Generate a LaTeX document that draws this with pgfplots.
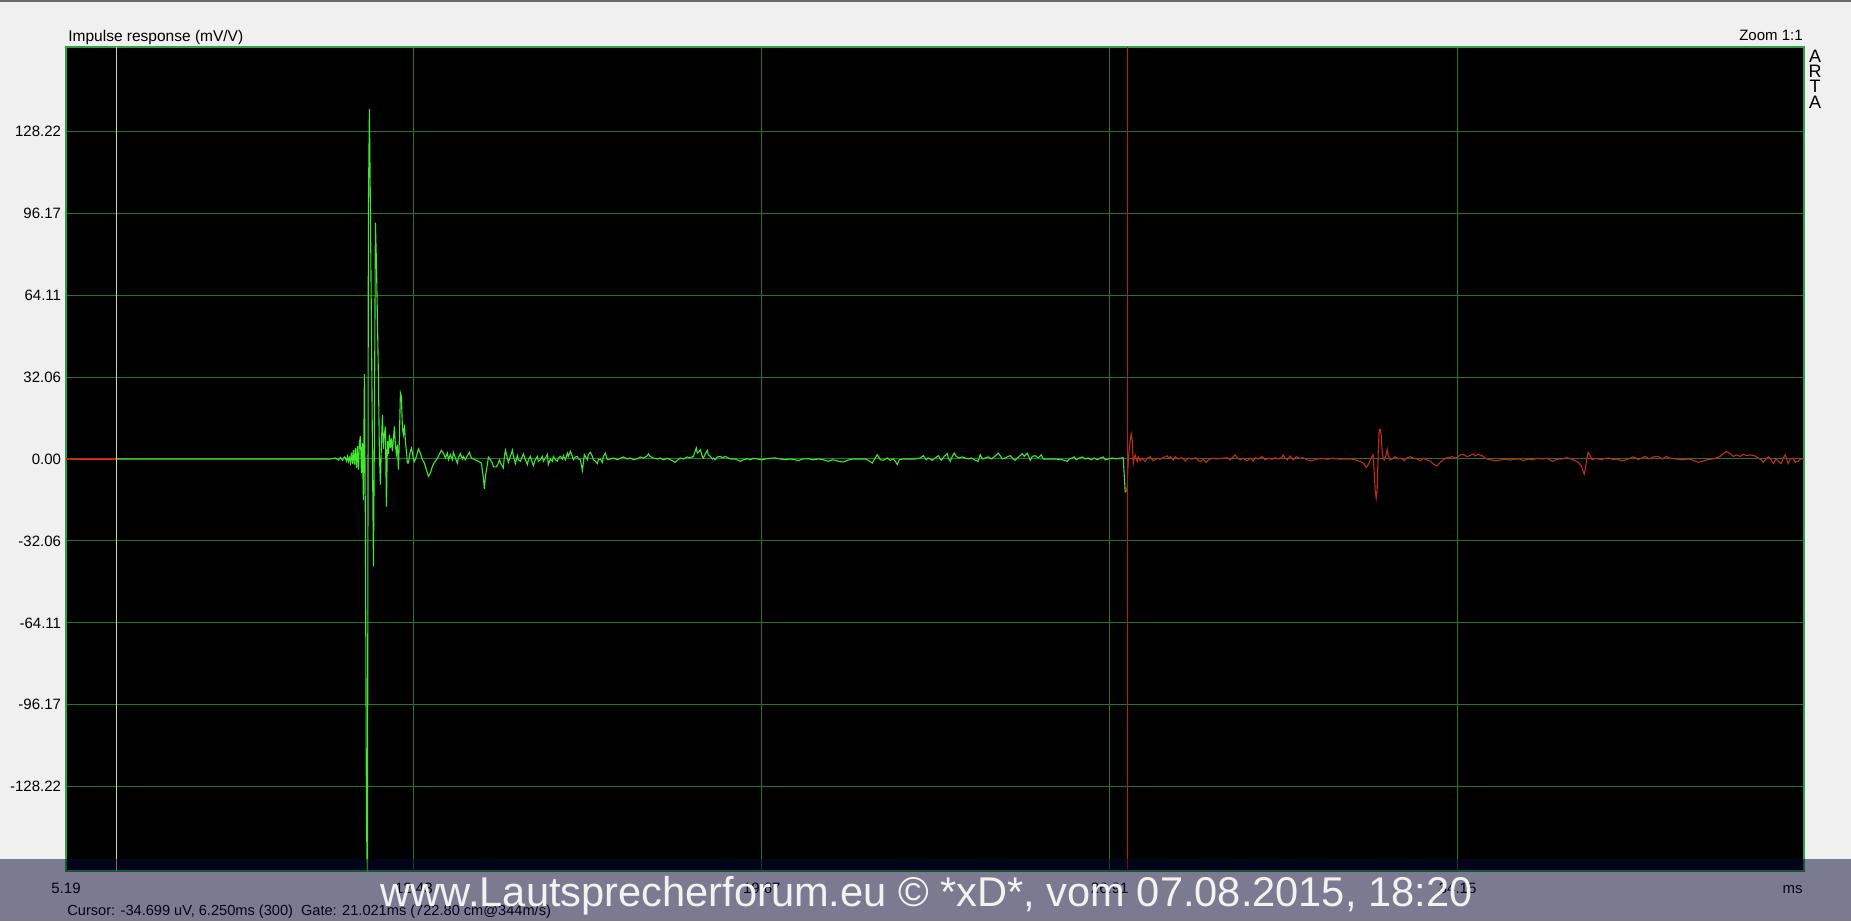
\documentclass[border=0pt]{standalone}
\usepackage{fontspec}
\setmainfont{Liberation Sans}
\usepackage{pgfplots}
\usepackage{pgfplotstable}
\pgfplotsset{compat=1.18}

\definecolor{pagebg}{RGB}{240,240,240}
\definecolor{topline}{RGB}{105,105,105}
\definecolor{gridgreen}{RGB}{34,120,34}
\definecolor{framegreen}{RGB}{48,160,72}
\definecolor{tracegreen}{RGB}{64,232,48}
\definecolor{tracered}{RGB}{196,44,24}
\definecolor{cursorcol}{RGB}{215,210,150}
\definecolor{gatecol}{RGB}{180,30,20}
\definecolor{bandnavy}{RGB}{6,6,52}
\definecolor{wmark}{RGB}{242,242,242}

\newcommand{\tickfont}{\fontsize{7.5}{9}\selectfont}

% impulse response, time in ms, level in mV/V
\pgfplotstableread{
t v
6.250 0
10.693 0
10.797 0.4
10.859 -0.4
10.901 0.6
10.942 -0.5
10.984 0.8
11.005 0.5
11.026 -0.8
11.047 1.0
11.067 -1.0
11.088 0.5
11.109 -1.5
11.130 2.5
11.151 -2.0
11.171 3.5
11.192 -2.2
11.213 4.3
11.234 -3.5
11.255 5.0
11.275 -4.2
11.296 6.3
11.317 8.9
11.338 -5.5
11.359 6.3
11.379 -16.0
11.400 33.2
11.421 -27.7
11.442 -138
11.463 -170
11.483 98.7
11.504 136.9
11.525 98.0
11.546 52.5
11.567 4.0
11.588 -42.0
11.608 10.0
11.629 92.5
11.650 77.2
11.671 55.0
11.692 31.6
11.712 2.0
11.733 -10.0
11.754 6.0
11.775 17.3
11.796 4.0
11.816 9.5
11.837 12.7
11.858 -18.6
11.879 7.0
11.900 2.0
11.920 9.5
11.941 4.3
11.962 8.0
11.983 3.0
12.004 8.0
12.024 12.7
12.045 5.6
12.066 2.0
12.087 5.6
12.108 -4.2
12.128 8.0
12.149 25.8
12.170 24.3
12.191 12.0
12.212 9.5
12.233 13.4
12.253 7.0
12.274 3.0
12.295 -1.6
12.316 -1.6
12.337 1.0
12.357 3.0
12.378 4.3
12.399 2.3
12.420 0.0
12.441 -1.0
12.482 1.0
12.524 3.9
12.565 2.3
12.607 -0.3
12.648 -1.6
12.690 -4.2
12.732 -6.8
12.773 -5.5
12.815 -2.9
12.856 -1.3
12.898 -0.3
12.940 1.0
13.002 3.4
13.044 2.3
13.085 0.4
13.127 2.3
13.148 -0.3
13.189 1.7
13.231 -0.3
13.252 2.6
13.293 0.4
13.335 -1.6
13.356 0.4
13.397 2.1
13.439 0
13.460 1.0
13.501 -0.3
13.543 1.3
13.585 2.6
13.626 0.4
13.668 0
13.730 -0.5
13.772 -0.9
13.834 -1.6
13.876 -7.4
13.897 -11.7
13.918 -6.8
13.959 -2.2
13.980 0.7
14.022 -0.3
14.063 -1.6
14.084 -3.1
14.146 -3.1
14.188 -1.6
14.209 -0.3
14.250 -2.2
14.292 -3.5
14.313 1.0
14.334 3.4
14.375 0.4
14.396 -1.3
14.438 1.0
14.479 3.4
14.500 1.3
14.542 -1.8
14.583 1.3
14.604 -0.3
14.646 -0.9
14.687 1.0
14.708 2.0
14.750 -0.3
14.791 -2.2
14.812 -0.3
14.854 1.0
14.895 -1.6
14.916 -2.6
14.958 -0.3
14.999 1.0
15.020 -0.9
15.062 -0.3
15.103 1.0
15.124 -0.9
15.166 0.4
15.207 1.7
15.228 -2.2
15.270 0
15.311 -0.9
15.332 1.0
15.374 -0.3
15.416 -0.9
15.436 0.4
15.478 1.0
15.520 0
15.540 1.3
15.582 -0.3
15.624 2.3
15.644 1.0
15.686 3.0
15.728 1.0
15.748 -0.3
15.790 0.8
15.832 1.0
15.852 0
15.894 -0.3
15.915 -2.2
15.936 -4.4
15.956 -1.6
15.977 1.7
15.998 1.0
16.040 -0.3
16.060 1.7
16.102 2.6
16.144 1.0
16.164 -0.3
16.206 -0.9
16.248 -1.8
16.268 -0.3
16.310 0
16.352 -1.3
16.373 1.0
16.414 2.3
16.456 -0.3
16.518 0
16.581 0.4
16.664 -0.3
16.726 0.3
16.789 0.8
16.872 0
16.934 0.4
16.997 -0.3
17.080 0.1
17.142 0.8
17.205 0.3
17.288 1.3
17.309 2.0
17.350 1.0
17.413 0.4
17.496 0
17.558 0.4
17.621 -0.3
17.704 0.3
17.766 -0.3
17.829 -0.9
17.870 -1.3
17.912 -0.5
17.975 0.4
18.037 0
18.120 0.8
18.182 0.4
18.245 1.0
18.307 4.3
18.328 2.3
18.370 3.0
18.391 3.6
18.432 1.0
18.453 0.4
18.495 2.0
18.536 3.4
18.557 1.7
18.599 1.0
18.640 0
18.661 0.4
18.703 -0.3
18.744 0.8
18.807 1.0
18.848 0.4
18.911 1.0
18.952 0.6
19.015 0
19.119 0
19.223 -0.9
19.285 -0.3
19.368 0.1
19.431 -0.3
19.493 0.3
19.576 0
19.680 -0.3
19.743 0
19.847 0.3
19.951 0.4
20.055 0
20.159 -0.3
20.263 0
20.367 -0.3
20.429 -0.7
20.513 0
20.638 0.1
20.742 -0.3
20.846 0
20.950 -0.3
21.054 -0.9
21.137 -0.3
21.199 -0.5
21.262 -0.9
21.366 -1.2
21.449 -0.5
21.553 0
21.678 0
21.823 0
21.886 -0.5
21.969 -1.6
22.031 0.4
22.073 1.7
22.136 -0.3
22.198 -0.5
22.281 0.4
22.344 -0.5
22.406 0
22.448 -0.9
22.489 -2.2
22.531 -0.3
22.614 0
22.718 0
22.864 0
22.968 0.4
23.030 1.3
23.093 -0.3
23.134 0.4
23.217 -0.5
23.280 0.4
23.342 1.3
23.405 -0.5
23.467 1.0
23.530 2.1
23.550 0.4
23.592 -0.9
23.634 1.0
23.675 2.3
23.717 1.0
23.779 0.4
23.842 0.8
23.904 0.4
23.966 0
24.029 0.4
24.112 -0.5
24.174 -0.9
24.216 1.7
24.258 0
24.320 0.4
24.382 0.8
24.445 0
24.507 0.8
24.591 2.3
24.632 1.3
24.674 0
24.736 0.4
24.799 1.0
24.840 1.3
24.903 0
24.944 -0.5
24.986 0.4
25.027 1.0
25.090 2.1
25.132 1.0
25.194 2.3
25.236 0.4
25.256 -0.5
25.298 1.0
25.360 1.3
25.423 0.4
25.485 1.6
25.527 0
25.631 0
25.776 0
25.922 -0.3
26.026 -0.9
26.068 0
26.130 0.4
26.172 0.8
26.213 -0.3
26.276 0.4
26.338 0.8
26.400 0
26.463 0.4
26.525 -0.3
26.588 0.4
26.650 -0.3
26.713 0.4
26.775 0.8
26.817 -0.3
26.879 0
26.962 0.4
27.046 0
27.108 0.3
27.170 0.4
27.191 0.5
27.212 -6.3
27.233 -12.8
27.254 -12.8
}\greentab

\pgfplotstableread{
t v
5.190 0
6.250 0
}\redlead

\pgfplotstableread{
t v
27.254 -12.8
27.274 -10.8
27.295 -1.0
27.316 3.5
27.337 7.4
27.358 9.8
27.378 7.4
27.399 -1.7
27.420 0.5
27.441 1.6
27.482 -1.0
27.503 0.9
27.545 -0.7
27.586 0.3
27.649 -1.0
27.690 0.3
27.753 0.9
27.815 -0.7
27.898 0.3
27.961 -0.1
28.023 0.5
28.106 1.2
28.148 0.3
28.169 0.9
28.231 -0.4
28.273 0.9
28.335 0
28.418 0.5
28.481 -0.8
28.543 0.3
28.626 0
28.689 0.5
28.751 -0.4
28.793 -1.0
28.855 -0.1
28.918 -1.4
28.959 -0.4
29.043 0.3
29.147 0
29.251 0.3
29.355 0.5
29.417 -0.4
29.480 0.9
29.522 1.6
29.563 0.5
29.626 -0.4
29.688 0.3
29.771 -0.7
29.834 0.3
29.896 -0.8
29.938 0.5
30.000 0
30.083 0.9
30.146 -0.4
30.208 0.3
30.291 -0.1
30.354 0.5
30.437 0
30.499 0.9
30.520 1.6
30.562 0.3
30.603 -0.4
30.666 1.2
30.728 -0.4
30.791 0.9
30.853 0.3
30.936 0.5
31.020 -0.4
31.124 -0.7
31.228 0
31.332 0.3
31.436 -0.1
31.561 0.3
31.706 -0.1
31.852 0
31.977 -0.1
32.081 -0.7
32.164 -1.3
32.206 -2.0
32.247 -3.3
32.289 -2.3
32.331 -0.4
32.372 1.2
32.393 1.6
32.414 -5.0
32.435 -12.1
32.456 -15.4
32.476 -12.1
32.497 2.2
32.518 11.6
32.539 11.6
32.560 9.4
32.580 2.9
32.601 0.3
32.622 -0.4
32.664 1.6
32.685 3.8
32.705 1.5
32.747 -0.4
32.809 0.3
32.851 0.9
32.914 0
32.976 0.3
33.039 -0.7
33.101 0.5
33.164 0.9
33.226 0.3
33.309 0
33.372 -0.7
33.434 0.3
33.517 -0.4
33.580 -0.8
33.642 -2.0
33.725 -2.7
33.767 -1.7
33.829 -0.7
33.892 0.3
33.954 0.5
34.037 0.9
34.100 0.3
34.162 0.9
34.204 1.6
34.266 1.8
34.350 0.9
34.412 1.4
34.475 2.0
34.516 1.2
34.579 1.8
34.662 1.3
34.724 0.3
34.787 -0.1
34.870 -0.4
34.932 -0.7
35.036 -0.4
35.140 -0.1
35.244 -0.4
35.348 0
35.452 0
35.515 -0.7
35.619 0
35.702 -0.3
35.806 0.3
35.910 0
36.014 0.3
36.118 -0.9
36.222 -0.1
36.327 0
36.410 0.5
36.472 0.3
36.576 -0.5
36.659 -1.3
36.722 -2.6
36.784 -5.9
36.805 -4.2
36.847 0.8
36.868 2.6
36.909 1.3
36.951 -0.3
37.034 0.3
37.138 -0.3
37.222 0.3
37.305 0.4
37.388 -0.3
37.451 0
37.534 -0.5
37.596 -0.7
37.700 0
37.804 0.8
37.867 0.3
37.908 -0.3
37.971 0.3
38.054 1.0
38.137 0
38.221 0.8
38.325 1.0
38.408 0
38.491 1.0
38.574 0.3
38.678 0
38.824 -0.3
38.970 0
39.074 -0.7
39.157 -1.3
39.240 -0.9
39.344 -0.3
39.448 0
39.532 0.4
39.615 1.0
39.677 2.1
39.740 3.0
39.823 2.1
39.886 1.0
39.948 1.6
40.031 1.0
40.094 1.8
40.177 1.3
40.239 1.6
40.323 1.3
40.406 0.4
40.468 -0.3
40.510 -1.3
40.572 0
40.614 0.8
40.676 -0.3
40.718 -1.8
40.780 0
40.822 -0.8
40.884 -1.8
40.926 0.4
40.968 1.6
41.030 -1.8
41.072 0
41.134 0.3
41.176 -1.3
41.238 -0.9
41.280 0
41.342 0
41.359 0
}\redtail

\begin{document}
\begin{tikzpicture}
\begin{scope}[x=0.5pt,y=0.5pt]
  \fill[pagebg] (0,0) rectangle (1851,921);
  \fill[topline] (0,919) rectangle (1851,921);
  \node[anchor=base west, inner sep=0pt, font=\fontsize{7.75}{9}\selectfont] at (68,879) {Impulse response (mV/V)};
  \node[anchor=base east, inner sep=0pt, font=\tickfont] at (1803,880) {Zoom 1:1};
  \foreach \l/\yy in {A/858,R/843,T/828,A/812}
    \node[anchor=base, inner sep=0pt, font=\fontsize{9}{10}\selectfont] at (1815,\yy) {\l};
\end{scope}

\begin{axis}[
    at={(33pt,25pt)}, anchor=south west,
    scale only axis, width=869pt, height=412pt,
    xmin=5.19, xmax=41.359, ymin=-161.2, ymax=161.2,
    axis background/.style={fill=black},
    axis line style={framegreen, line width=0.6pt},
    grid=major,
    major grid style={gridgreen, line width=0.5pt},
    major tick length=0pt,
    xtick={5.19,12.43,19.67,26.91,34.15},
    xticklabels={5.19,12.43,19.67,26.91,34.15},
    ytick={-128.22,-96.17,-64.11,-32.06,0,32.06,64.11,96.17,128.22},
    yticklabels={-128.22,-96.17,-64.11,-32.06,0.00,32.06,64.11,96.17,128.22},
    tick label style={font=\tickfont, inner sep=0pt},
    xticklabel style={anchor=base, yshift=-11pt},
    yticklabel style={anchor=east, xshift=-2.3pt},
  ]
  \addplot[tracered, line width=0.55pt] table[x=t, y=v] {\redlead};
  \addplot[cursorcol, line width=0.5pt] coordinates {(6.25,-161.2) (6.25,161.2)};
  \addplot[tracered, line width=0.55pt] table[x=t, y=v] {\redtail};
  \addplot[tracegreen, line width=0.55pt] table[x=t, y=v] {\greentab};
  \addplot[gatecol, line width=0.5pt] coordinates {(27.27,-161.2) (27.27,161.2)};
\end{axis}

\begin{scope}[x=0.5pt,y=0.5pt]
  \node[anchor=base east, inner sep=0pt, font=\tickfont] at (1803,28) {ms};
  \node[anchor=base west, inner sep=0pt, font=\fontsize{7.3}{9}\selectfont] at (67,6)
    {Cursor: -34.699 uV, 6.250ms (300)\ \ Gate: 21.021ms (722.80 cm@344m/s)};
  \fill[bandnavy, opacity=0.5] (0,0) rectangle (1851,62);
  \node[anchor=base west, inner sep=0pt, text=wmark, font=\fontsize{20.8}{24}\selectfont] at (380,15)
    {www.Lautsprecherforum.eu © *xD*, vom 07.08.2015, 18:20};
\end{scope}
\end{tikzpicture}
\end{document}
